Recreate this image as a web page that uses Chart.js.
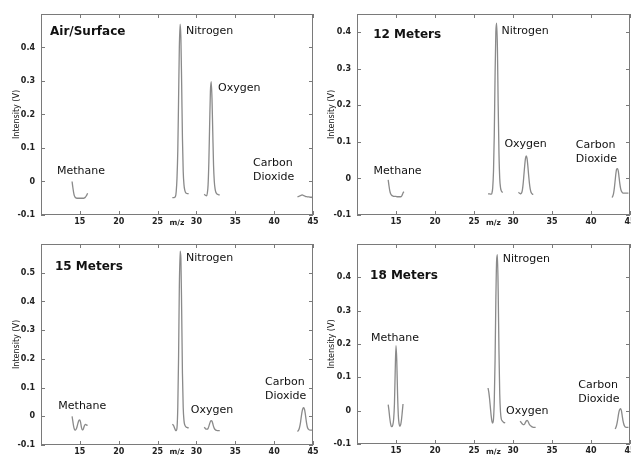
<!DOCTYPE html>
<html>
<head>
<meta charset="utf-8">
<script src="https://cdn.jsdelivr.net/npm/chart.js@4.4.1/dist/chart.umd.min.js"></script>
<style>
    body { margin: 0; background: #ffffff; }
    .panel { position: absolute; }
</style>
</head>
<body>
<div class="panel" style="left:0px;top:0px;width:322px;height:228px"><canvas id="chart_surface"></canvas></div>
<div class="panel" style="left:315px;top:0px;width:316px;height:228px"><canvas id="chart_m12"></canvas></div>
<div class="panel" style="left:0px;top:228px;width:322px;height:229px"><canvas id="chart_m15"></canvas></div>
<div class="panel" style="left:315px;top:228px;width:316px;height:229px"><canvas id="chart_m18"></canvas></div>
<script>
// m/z sample positions for each peak window
const methaneX = [14.0, 14.1, 14.2, 14.3, 14.4, 14.5, 14.6, 14.7, 14.8, 14.9, 15.0, 15.1, 15.2, 15.3, 15.4, 15.5, 15.6, 15.7, 15.8, 15.9, 16.0];
const nitrogenX = [26.8, 26.9, 27.0, 27.1, 27.2, 27.3, 27.4, 27.5, 27.6, 27.7, 27.8, 27.9, 28.0, 28.1, 28.2, 28.3, 28.4, 28.5, 28.6, 28.7, 28.8, 28.9, 29.0];
const oxygenX = [30.6, 30.7, 30.8, 30.9, 31.0, 31.1, 31.2, 31.3, 31.4, 31.5, 31.6, 31.7, 31.8, 31.9, 32.0, 32.1, 32.2, 32.3, 32.4, 32.5, 32.6, 32.7, 32.8, 32.9, 33.0];
const co2X = [42.5, 42.6, 42.7, 42.8, 42.9, 43.0, 43.1, 43.2, 43.3, 43.4, 43.5, 43.6, 43.7, 43.8, 43.9, 44.0, 44.1, 44.2, 44.3, 44.4, 44.5, 44.6, 44.7, 44.8, 44.9, 45.0];

// Air/Surface intensities (V)
const surfaceMethane = [0.0, -0.018, -0.033, -0.043, -0.047, -0.049, -0.05, -0.05, -0.05, -0.05, -0.05, -0.05, -0.05, -0.05, -0.05, -0.05, -0.049, -0.047, -0.044, -0.04, -0.035];
const surfaceNitrogen = [null, -0.048, -0.048, -0.048, -0.047, -0.045, -0.03, 0.01, 0.09, 0.24, 0.40, 0.47, 0.43, 0.29, 0.13, 0.03, -0.01, -0.026, -0.033, -0.035, -0.036, -0.036, -0.037];
const surfaceOxygen = [null, null, null, null, -0.038, -0.04, -0.042, -0.043, -0.035, -0.01, 0.06, 0.17, 0.27, 0.298, 0.25, 0.15, 0.05, 0.0, -0.022, -0.032, -0.036, -0.038, -0.039, -0.04, -0.04];
const surfaceCO2 = [null, null, null, null, null, -0.046, -0.045, -0.044, -0.043, -0.042, -0.041, -0.04, -0.041, -0.042, -0.043, -0.044, -0.045, -0.045, -0.046, -0.046, -0.046, -0.047, -0.047, -0.047, -0.048, -0.048];

// 12 Meters
const m12Methane = [-0.004, -0.02, -0.033, -0.041, -0.045, -0.047, -0.048, -0.049, -0.049, -0.049, -0.049, -0.05, -0.05, -0.05, -0.05, -0.05, -0.05, -0.049, -0.045, -0.04, -0.036];
const m12Nitrogen = [-0.042, -0.042, -0.042, -0.043, -0.043, -0.04, -0.025, 0.02, 0.12, 0.28, 0.40, 0.425, 0.36, 0.2, 0.07, 0.0, -0.025, -0.034, -0.037, -0.038, null, null, null];
const m12Oxygen = [null, -0.038, -0.04, -0.041, -0.042, -0.04, -0.032, -0.015, 0.01, 0.035, 0.055, 0.062, 0.055, 0.035, 0.01, -0.012, -0.028, -0.037, -0.041, -0.043, -0.044, null, null, null, null];
const m12CO2 = [null, null, -0.052, -0.048, -0.04, -0.025, -0.005, 0.015, 0.026, 0.027, 0.02, 0.003, -0.015, -0.028, -0.035, -0.038, -0.04, -0.04, -0.04, -0.04, -0.04, -0.04, -0.04, -0.04, null, null];

// 15 Meters
const m15Methane = [0.0, -0.018, -0.035, -0.045, -0.048, -0.046, -0.04, -0.03, -0.02, -0.014, -0.013, -0.022, -0.038, -0.047, -0.047, -0.04, -0.032, -0.028, -0.029, -0.031, -0.032];
const m15Nitrogen = [null, -0.028, -0.03, -0.035, -0.042, -0.048, -0.05, -0.04, 0.03, 0.2, 0.45, 0.575, 0.55, 0.37, 0.15, 0.03, -0.015, -0.03, -0.035, -0.038, -0.039, -0.04, -0.04];
const m15Oxygen = [null, null, null, null, -0.038, -0.041, -0.044, -0.045, -0.045, -0.042, -0.035, -0.026, -0.018, -0.015, -0.017, -0.025, -0.035, -0.042, -0.046, -0.048, -0.049, -0.05, -0.05, -0.05, -0.05];
const m15CO2 = [null, null, null, null, null, -0.053, -0.05, -0.045, -0.035, -0.02, 0.0, 0.017, 0.027, 0.03, 0.025, 0.01, -0.01, -0.028, -0.04, -0.045, -0.047, -0.048, -0.048, -0.048, -0.048, -0.048];

// 18 Meters
const m18Methane = [0.018, 0.0, -0.022, -0.038, -0.047, -0.048, -0.042, -0.025, 0.02, 0.12, 0.195, 0.15, 0.05, -0.015, -0.04, -0.047, -0.042, -0.028, -0.005, 0.02, null];
const m18Nitrogen = [0.068, 0.055, 0.035, 0.01, -0.015, -0.032, -0.037, -0.025, 0.03, 0.15, 0.33, 0.45, 0.468, 0.36, 0.18, 0.05, -0.005, -0.025, -0.03, -0.033, -0.035, -0.036, -0.037];
const m18Oxygen = [null, null, null, -0.032, -0.034, -0.037, -0.04, -0.042, -0.042, -0.04, -0.035, -0.031, -0.029, -0.031, -0.036, -0.041, -0.044, -0.046, -0.048, -0.049, -0.05, -0.05, -0.05, -0.05, null];
const m18CO2 = [null, null, null, null, null, null, -0.055, -0.05, -0.042, -0.03, -0.015, -0.002, 0.004, 0.006, 0.0, -0.015, -0.03, -0.04, -0.046, -0.049, -0.05, -0.05, -0.05, -0.05, null, null];

// axis ticks
const xTickValues = [15, 20, 25, 30, 35, 40, 45];
const yTicksTo04 = [-0.1, 0, 0.1, 0.2, 0.3, 0.4];
const yTicksTo05 = [-0.1, 0, 0.1, 0.2, 0.3, 0.4, 0.5];

const FONT = '"DejaVu Sans", Verdana, sans-serif';
const LINE_COLOR = '#8a8a8a';
const FRAME_COLOR = '#7a7a7a';

// Draws the boxed frame, inward tick marks and the text notes
const frameAndNotes = {
    id: 'frameAndNotes',
    afterDatasetsDraw(chart, args, opts) {
        const { ctx, chartArea: a, scales: { x, y } } = chart;
        ctx.save();
        ctx.strokeStyle = FRAME_COLOR;
        ctx.lineWidth = 1;
        ctx.strokeRect(a.left + 0.5, a.top + 0.5, a.right - a.left - 1, a.bottom - a.top - 1);

        ctx.beginPath();
        x.ticks.forEach(t => {
            const px = Math.round(x.getPixelForValue(t.value)) + 0.5;
            ctx.moveTo(px, a.bottom); ctx.lineTo(px, a.bottom - 4);
            ctx.moveTo(px, a.top); ctx.lineTo(px, a.top + 4);
        });
        y.ticks.forEach(t => {
            const py = Math.round(y.getPixelForValue(t.value)) + 0.5;
            ctx.moveTo(a.left, py); ctx.lineTo(a.left + 4, py);
            ctx.moveTo(a.right, py); ctx.lineTo(a.right - 4, py);
        });
        ctx.stroke();

        ctx.fillStyle = '#111111';
        ctx.textAlign = 'left';
        ctx.textBaseline = 'middle';
        ctx.font = `bold 12px ${FONT}`;
        ctx.fillText(opts.title, x.getPixelForValue(opts.titleAt[0]), y.getPixelForValue(opts.titleAt[1]));
        ctx.font = `11px ${FONT}`;
        opts.notes.forEach(n => {
            ctx.fillText(n[0], x.getPixelForValue(n[1]), y.getPixelForValue(n[2]));
        });
        ctx.restore();
    }
};

function toPoints(xs, ys) {
    return xs.map((v, i) => ({ x: v, y: ys[i] }));
}

function formatTick(value) {
    if (Math.abs(value) < 1e-9) return '0';
    return String(+value.toFixed(2));
}

function initializePanel(panel) {
    const ctx = document.getElementById(`chart_${panel.id}`).getContext('2d');
    const windows = [methaneX, nitrogenX, oxygenX, co2X];
    new Chart(ctx, {
        type: 'line',
        data: {
            datasets: panel.series.map((ys, i) => ({
                data: toPoints(windows[i], ys),
                borderColor: LINE_COLOR,
                borderWidth: 1.3,
                pointRadius: 0,
                cubicInterpolationMode: 'monotone',
                spanGaps: false,
                fill: false
            }))
        },
        options: {
            responsive: true,
            maintainAspectRatio: false,
            animation: false,
            devicePixelRatio: 1,
            layout: { padding: panel.padding },
            plugins: {
                legend: { display: false },
                tooltip: { enabled: false },
                frameAndNotes: { title: panel.title, titleAt: panel.titleAt, notes: panel.notes }
            },
            scales: {
                x: {
                    type: 'linear',
                    min: 10,
                    max: 45,
                    grid: { display: false, drawTicks: false },
                    border: { display: false },
                    afterBuildTicks: s => { s.ticks = xTickValues.map(v => ({ value: v })); },
                    afterFit: s => { s.height = panel.xHeight; s.paddingLeft = 0; s.paddingRight = 0; },
                    ticks: {
                        padding: 2,
                        maxRotation: 0,
                        autoSkip: false,
                        font: { size: 8, family: FONT, weight: 'bold' },
                        color: '#222222',
                        callback: v => formatTick(v)
                    },
                    title: {
                        display: true,
                        text: 'm/z',
                        padding: 0,
                        font: { size: 7.5, family: FONT, weight: 'bold' },
                        color: '#222222'
                    }
                },
                y: {
                    min: -0.1,
                    max: panel.yMax,
                    grid: { display: false, drawTicks: false },
                    border: { display: false },
                    afterBuildTicks: s => { s.ticks = panel.yTicks.map(v => ({ value: v })); },
                    afterFit: s => { s.width = panel.yWidth; s.paddingTop = 0; s.paddingBottom = 0; },
                    ticks: {
                        padding: 6,
                        font: { size: 8, family: FONT, weight: 'bold' },
                        color: '#222222',
                        callback: v => formatTick(v)
                    },
                    title: {
                        display: true,
                        text: 'Intensity (V)',
                        padding: { top: 12, bottom: 0 },
                        font: { size: 8, family: FONT },
                        color: '#111111'
                    }
                }
            }
        },
        plugins: [frameAndNotes]
    });
}

const panels = [
    {
        id: 'surface', title: 'Air/Surface', titleAt: [11.16, 0.448],
        series: [surfaceMethane, surfaceNitrogen, surfaceOxygen, surfaceCO2],
        yMax: 0.5, yTicks: yTicksTo04, yWidth: 41, xHeight: 13,
        padding: { left: 0, top: 14, right: 9, bottom: 0 },
        notes: [['Nitrogen', 28.66, 0.448], ['Oxygen', 32.78, 0.28], ['Methane', 12.06, 0.032],
                ['Carbon', 37.28, 0.056], ['Dioxide', 37.28, 0.014]]
    },
    {
        id: 'm12', title: '12 Meters', titleAt: [12.08, 0.392],
        series: [m12Methane, m12Nitrogen, m12Oxygen, m12CO2],
        yMax: 0.45, yTicks: yTicksTo04, yWidth: 42, xHeight: 13,
        padding: { left: 0, top: 14, right: 1, bottom: 0 },
        notes: [['Nitrogen', 28.52, 0.402], ['Oxygen', 28.9, 0.094], ['Methane', 12.13, 0.02],
                ['Carbon', 38.06, 0.092], ['Dioxide', 38.06, 0.053]]
    },
    {
        id: 'm15', title: '15 Meters', titleAt: [11.8, 0.52],
        series: [m15Methane, m15Nitrogen, m15Oxygen, m15CO2],
        yMax: 0.6, yTicks: yTicksTo05, yWidth: 41, xHeight: 12,
        padding: { left: 0, top: 16, right: 9, bottom: 0 },
        notes: [['Nitrogen', 28.66, 0.55], ['Oxygen', 29.27, 0.02], ['Methane', 12.23, 0.034],
                ['Carbon', 38.83, 0.118], ['Dioxide', 38.83, 0.069]]
    },
    {
        id: 'm18', title: '18 Meters', titleAt: [11.67, 0.405],
        series: [m18Methane, m18Nitrogen, m18Oxygen, m18CO2],
        yMax: 0.5, yTicks: yTicksTo04, yWidth: 42, xHeight: 13,
        padding: { left: 0, top: 16, right: 1, bottom: 0 },
        notes: [['Nitrogen', 28.68, 0.456], ['Oxygen', 29.1, 0.0], ['Methane', 11.8, 0.218],
                ['Carbon', 38.37, 0.078], ['Dioxide', 38.37, 0.035]]
    }
];

panels.forEach(initializePanel);
</script>
</body>
</html>
